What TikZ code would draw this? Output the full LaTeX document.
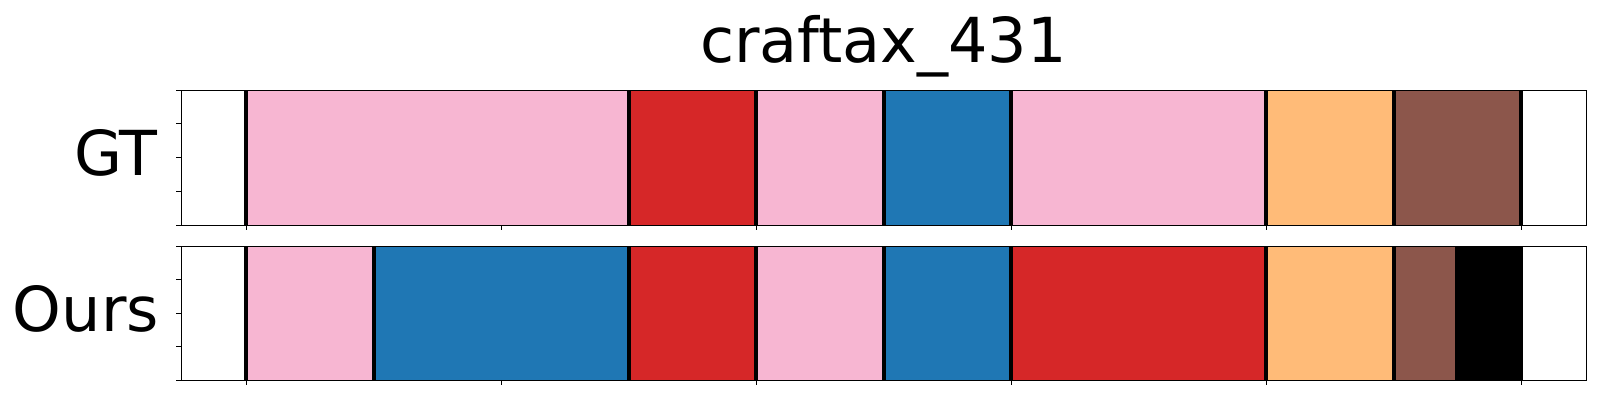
\documentclass[tikz,border=0pt]{standalone}
\usepackage{fontspec}
\setmainfont{DejaVu Sans}
\usepackage{tikz}
\definecolor{segpink}{HTML}{F7B6D2}
\definecolor{segred}{HTML}{D62728}
\definecolor{segblue}{HTML}{1F77B4}
\definecolor{segorange}{HTML}{FFBB78}
\definecolor{segbrown}{HTML}{8C564B}
\tikzset{
    segline/.style={line width=4pt},
    axframe/.style={line width=1pt},
    axtick/.style={line width=0.8pt},
    bigtext/.style={inner sep=0pt, font=\fontsize{62}{62}\selectfont},
}

\begin{document}
\begin{tikzpicture}[x=1pt, y=-1pt]
		\useasboundingbox (0,0) rectangle (1600,400);
		% segments, GT row
		\foreach \a/\b/\c in {0/1.5/segpink, 1.5/2/segred, 2/2.5/segpink, 2.5/3/segblue, 3/4/segpink, 4/4.5/segorange, 4.5/5/segbrown}
			\fill[\c] ({246+255*\a},90) rectangle ({246+255*\b},225);
		% segments, Ours row
		\foreach \a/\b/\c in {0/0.5/segpink, 0.5/1.5/segblue, 1.5/2/segred, 2/2.5/segpink, 2.5/3/segblue, 3/4/segred, 4/4.5/segorange, 4.5/4.74/segbrown, 4.74/5/black}
			\fill[\c] ({246+255*\a},246) rectangle ({246+255*\b},380);
		% boundaries
		\foreach \a in {0,1.5,2,2.5,3,4,4.5,5}
			\draw[segline] ({246+255*\a},90) -- ({246+255*\a},225);
		\foreach \a in {0,0.5,1.5,2,2.5,3,4,4.5,5}
			\draw[segline] ({246+255*\a},246) -- ({246+255*\a},380);
		% axes and ticks
		\draw[axframe] (181,90) rectangle (1586,225);
		\draw[axframe] (181,246) rectangle (1586,380);
		\foreach \t in {0,...,5} {
			\draw[axtick] ({246+255*\t},225) -- ++(0,5);
			\draw[axtick] ({246+255*\t},380) -- ++(0,5);
		}
		\foreach \k in {0,...,4} {
			\draw[axtick] (181,{90+33.75*\k}) -- ++(-5,0);
			\draw[axtick] (181,{246+33.5*\k}) -- ++(-5,0);
		}
		
		\node[bigtext, anchor=base] (title) at (883.5,62) {craftax\_431};
		\node[bigtext, anchor=base east] (gt) at (158,175) {GT};
		\node[bigtext, anchor=base east] (ours) at (159,331) {Ours};
		\end{tikzpicture}
\end{document}
